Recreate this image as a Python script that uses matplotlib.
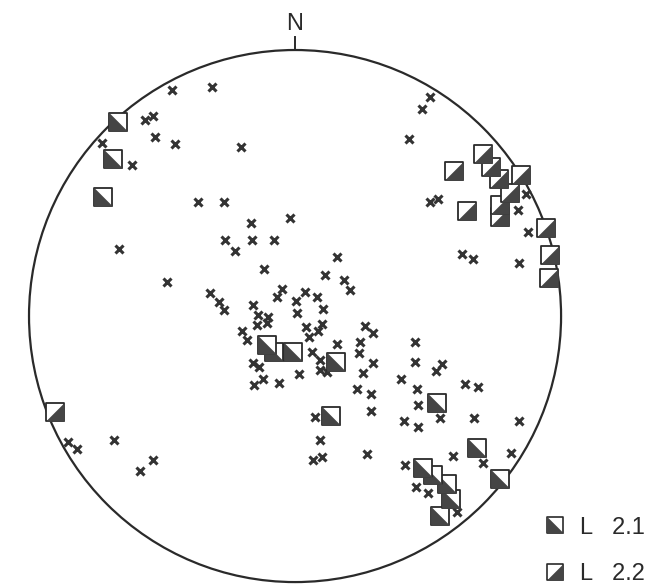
import matplotlib
matplotlib.use("Agg")
import matplotlib.pyplot as plt
from matplotlib.path import Path
from matplotlib.lines import Line2D
from matplotlib.patches import Circle

cross_x = [-0.462, -0.312, -0.564, -0.534, -0.726, -0.526, -0.451, -0.203, -0.613, -0.365,
           -0.267, -0.165, -0.019, -0.263, -0.226, -0.162, -0.079, -0.662, -0.117, -0.481,
           0.113, 0.158, 0.184, 0.207, 0.508, 0.477, 0.429, 0.508, 0.538, 0.838,
           0.876, 0.628, 0.669, 0.842, 0.868, -0.320, -0.286, -0.267, -0.049, -0.068,
           0.038, 0.083, 0.004, 0.105, 0.008, -0.158, -0.139, -0.102, -0.143, -0.105,
           0.041, 0.053, 0.086, 0.102, -0.199, -0.180, 0.158, 0.263, 0.293, 0.244,
           0.241, 0.293, 0.064, 0.094, 0.094, 0.120, -0.158, -0.135, 0.015, -0.154,
           -0.120, -0.060, 0.256, 0.233, 0.286, 0.286, 0.451, 0.451, 0.530, 0.553,
           0.398, 0.459, 0.639, 0.688, 0.462, 0.410, 0.462, 0.545, 0.673, 0.842,
           0.271, 0.414, 0.594, 0.707, 0.812, 0.455, 0.500, 0.609, 0.075, 0.094,
           0.068, 0.102, -0.853, -0.820, -0.680, -0.583, -0.534]
cross_y = [0.850, 0.861, 0.737, 0.752, 0.650, 0.673, 0.647, 0.635, 0.568, 0.429,
           0.429, 0.350, 0.368, 0.286, 0.244, 0.286, 0.286, 0.252, 0.177, 0.128,
           0.154, 0.222, 0.135, 0.098, 0.823, 0.778, 0.665, 0.429, 0.440, 0.398,
           0.316, 0.233, 0.214, 0.199, 0.459, 0.086, 0.053, 0.023, 0.102, 0.071,
           0.090, 0.071, 0.056, 0.026, 0.011, 0.041, 0.004, -0.004, -0.034, -0.026,
           -0.041, -0.079, -0.056, -0.030, -0.056, -0.090, -0.105, -0.038, -0.064, -0.098,
           -0.139, -0.177, -0.135, -0.165, -0.203, -0.211, -0.177, -0.192, -0.218, -0.259,
           -0.237, -0.252, -0.214, -0.274, -0.293, -0.357, -0.098, -0.173, -0.207, -0.180,
           -0.237, -0.274, -0.256, -0.267, -0.335, -0.395, -0.417, -0.383, -0.383, -0.395,
           -0.519, -0.560, -0.526, -0.553, -0.515, -0.643, -0.665, -0.737, -0.380, -0.466,
           -0.541, -0.530, -0.474, -0.500, -0.466, -0.583, -0.541]

# lineations L 2.1
l21_x = [-0.665, -0.684, -0.722, -0.105, -0.079, -0.008, 0.154, 0.135,
         0.534, 0.684, 0.771, 0.481, 0.519, 0.571, 0.586, 0.545]
l21_y = [0.729, 0.590, 0.447, -0.109, -0.135, -0.135, -0.173, -0.376,
         -0.327, -0.496, -0.613, -0.571, -0.598, -0.632, -0.688, -0.752]

# lineations L 2.2
l22_x = [0.707, 0.598, 0.737, 0.767, 0.850, 0.808, 0.771, 0.771,
         0.647, 0.944, 0.959, 0.955, -0.902]
l22_y = [0.609, 0.545, 0.560, 0.515, 0.530, 0.462, 0.417, 0.372,
         0.395, 0.331, 0.229, 0.143, -0.361]

labels = ["L   2.1", "L   2.2"]

dark = "#454545"
ink = "#2a2a2a"
fnt = ["Liberation Sans Narrow", "Liberation Sans", "DejaVu Sans"]

# half filled square markers
sq = Path([(-1, -1), (1, -1), (1, 1), (-1, 1), (-1, -1)], closed=True)
tri21 = Path([(-1, 1), (-1, -1), (1, -1), (-1, 1)], closed=True)
tri22 = Path([(-1, -1), (1, -1), (1, 1), (-1, -1)], closed=True)

fig = plt.figure(figsize=(6.55, 5.85), dpi=100)
ax = fig.add_axes([0, 0, 1, 1])
ax.set_xlim(-1.109, 1.353)
ax.set_ylim(-1.011, 1.188)
ax.set_aspect("equal")
ax.axis("off")

ax.add_patch(Circle((0, 0), 1.0, fill=False, lw=1.6, ec=ink, zorder=1))
ax.plot([0, 0], [1.0, 1.05], color=ink, lw=1.4)
ax.text(0, 1.097, "N", ha="center", va="center", fontsize=17, color=ink,
        family=fnt, stretch="condensed")

ax.plot(cross_x, cross_y, ls="none", marker="x", ms=6, mew=2.2, color="#333333", zorder=2)


def square(x, y, tri, z, ms=12.5):
    ax.plot(x, y, marker=sq, ms=ms, mfc="white", mec=ink, mew=1.3, ls="none", zorder=z)
    ax.plot(x, y, marker=tri, ms=ms, mfc=dark, mec=dark, mew=0.4, ls="none", zorder=z + 0.01)


# draw lower squares first so the upper ones sit on top
pts = [(x, y, tri21) for x, y in zip(l21_x, l21_y)] + [(x, y, tri22) for x, y in zip(l22_x, l22_y)]
pts = sorted(pts, key=lambda p: p[1])
for i, p in enumerate(pts):
    square(p[0], p[1], p[2], 3 + i * 0.02)

# legend
h = []
for tri in (tri21, tri22):
    a = Line2D([], [], marker=sq, ms=11, mfc="white", mec=ink, mew=1.2, ls="none")
    b = Line2D([], [], marker=tri, ms=11, mfc=dark, mec=dark, mew=0.4, ls="none")
    h.append((a, b))
leg = ax.legend(h, labels, loc="lower right", bbox_to_anchor=(645 / 655, 0),
                bbox_transform=fig.transFigure, frameon=False, borderpad=0, borderaxespad=0,
                handlelength=1.0, handletextpad=0.56, labelspacing=1.03,
                prop={"family": fnt, "size": 17, "stretch": "condensed"})
for t in leg.get_texts():
    t.set_color(ink)

fig.savefig("out.png", dpi=100, facecolor="white")
